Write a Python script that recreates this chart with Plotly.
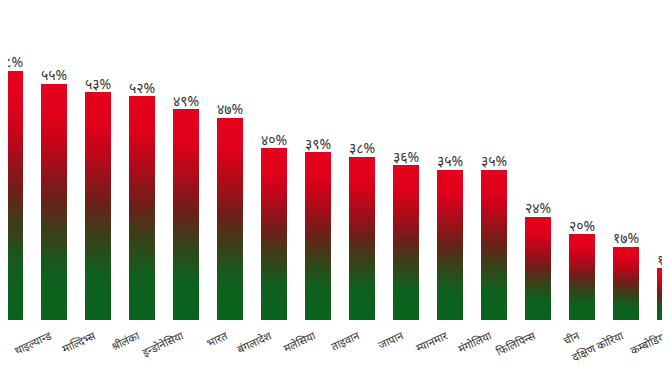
import plotly.graph_objects as go

countries = ["नेपाल", "थाइल्यान्ड", "माल्दिभ्स", "श्रीलंका", "इन्डोनेसिया", "भारत",
             "बंगलादेश", "मलेसिया", "ताइवान", "जापान", "म्यानमार", "मंगोलिया",
             "फिलिपिन्स", "चीन", "दक्षिण कोरिया", "कम्बोडिया"]
values = [58, 55, 53, 52, 49, 47, 40, 39, 38, 36, 35, 35, 24, 20, 17, 12]
value_labels = ["५८%", "५५%", "५३%", "५२%", "४९%", "४७%", "४०%", "३९%", "३८%",
                "३६%", "३५%", "३५%", "२४%", "२०%", "१७%", "१२%"]

# gradient stops: fraction from bottom -> colour
stops = [(0.0, (10, 100, 30)), (0.2, (16, 96, 30)), (0.38, (60, 62, 24)),
         (0.52, (110, 30, 26)), (0.7, (180, 10, 26)), (0.85, (224, 0, 26)),
         (1.0, (230, 0, 28))]

def colour(f):
    for (f0, c0), (f1, c1) in zip(stops[:-1], stops[1:]):
        if f0 <= f <= f1:
            t = (f - f0) / (f1 - f0)
            c = [round(a + (b - a) * t) for a, b in zip(c0, c1)]
            return f"rgb({c[0]},{c[1]},{c[2]})"
    return "rgb(230,0,28)"

N = 60
x = list(range(len(countries)))
fig = go.Figure()
for k in range(N):
    fig.add_trace(go.Bar(
        x=x, y=[v / N for v in values],
        marker=dict(color=colour((k + 0.5) / N), line=dict(width=0)),
        width=0.6, showlegend=False, hoverinfo="skip"))

fig.add_trace(go.Scatter(
    x=x, y=values, mode="text", text=value_labels, textposition="top center",
    textfont=dict(size=14, color="#333333"), showlegend=False, cliponaxis=False))

fig.update_layout(
    width=670, height=373, barmode="stack", bargap=0,
    paper_bgcolor="white", plot_bgcolor="white",
    margin=dict(l=0, r=0, t=0, b=61, autoexpand=False),
    font=dict(family="Noto Sans, DejaVu Sans, sans-serif"),
)
fig.update_xaxes(range=[-0.0455, 15.182], tickmode="array", tickvals=x, ticktext=countries,
                 tickangle=-25, tickfont=dict(size=11, color="#333333"),
                 ticklabelstandoff=7, ticklabelshift=-4, ticklabeloverflow="allow",
                 showgrid=False, zeroline=False, showline=False, ticks="",
                 automargin=False)
fig.update_yaxes(range=[0, 72.56], visible=False, showgrid=False, zeroline=False,
                 automargin=False)

fig.write_html("out.html")
